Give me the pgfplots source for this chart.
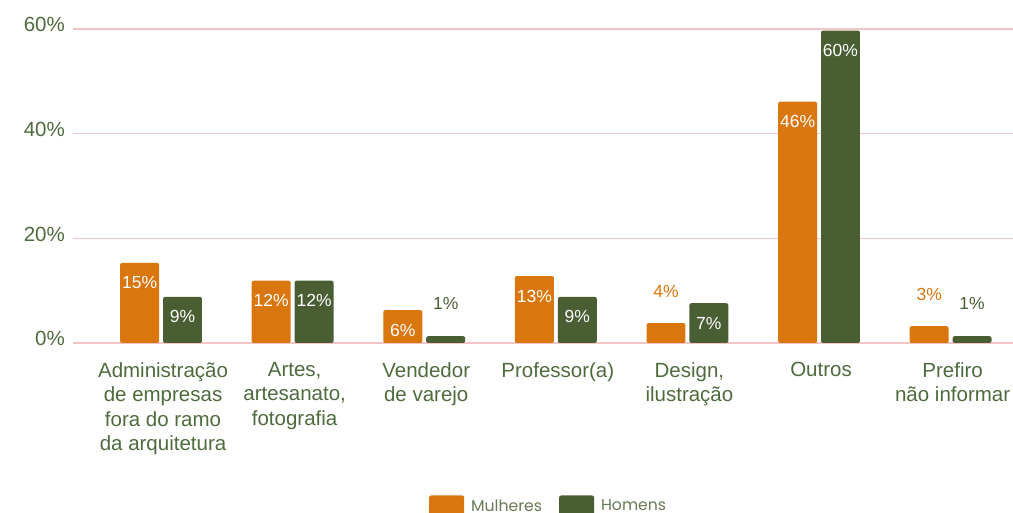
\documentclass[border=0pt]{standalone}
\usepackage{pgfplots}
\pgfplotsset{compat=1.18}
\usepackage{fontspec}
\setmainfont{Liberation Sans}
\newfontfamily\legendfont{Poppins}
\definecolor{cOr}{HTML}{D9770E}
\definecolor{cGr}{HTML}{495E33}
\definecolor{cTxt}{HTML}{4E6B3D}
\definecolor{cGrid}{HTML}{F2C6C6}
\definecolor{cLeg}{HTML}{667A55}
\pgfplotsset{
  mylegimg/.style={legend image code/.code={\fill[##1] (0pt,-9.5pt) rectangle (35pt,10.5pt); \path (40pt,0pt);}},
  lab/.style={draw=none, mark=none, forget plot,
    point meta=explicit symbolic, nodes near coords,
    every node near coord/.append style={font=\fontsize{17.5}{20}\selectfont, anchor=center, inner sep=0pt}},
}
\begin{document}
\begin{tikzpicture}
\path[use as bounding box] (0pt,0pt) rectangle (1013pt,513pt);
\begin{axis}[
  at={(73pt,170pt)}, anchor=south west, scale only axis, width=940pt, height=314pt,
  xmin=-0.669, xmax=6.474, ymin=0, ymax=60,
  axis line style={draw=none}, major tick length=0pt,
  ytick={0,20,40,60}, yticklabels={0\%,20\%,40\%,60\%},
  ymajorgrids, grid style={cGrid, line width=1.4pt},
  yticklabel style={font=\fontsize{20.5}{24}\selectfont, text=cTxt, anchor=base east, inner sep=0pt, xshift=-8pt, yshift=-2.7pt},
  xtick={0,1,2,3,4,5,6},
  xticklabels={{Administração\\de empresas\\fora do ramo\\da arquitetura},{Artes,\\artesanato,\\fotografia},{Vendedor\\de varejo},{Professor(a)},{Design,\\ilustração},{Outros},{Prefiro\\não informar}},
  xticklabel style={font=\fontsize{20.5}{24.5}\selectfont, text=cTxt, align=center, anchor=north, inner sep=0pt, yshift=-19pt, xshift=2pt},
  legend style={at={(rel axis cs:0.506,-0.5175)}, anchor=center, draw=none, fill=none, inner sep=0pt,
    font=\legendfont\fontsize{15.7}{18}\selectfont, text=cLeg,
    /tikz/every even column/.append style={column sep=15pt}},
  legend columns=2, legend cell align=left,
]
\addplot[ybar, bar width=0.296, bar shift=-0.163, fill=cOr, draw=none, rounded corners=2pt, mylegimg]
  coordinates {(0,15.3) (1,11.9) (2,6.3) (3,12.8) (4,3.8) (5,46.1) (6,3.2)};
\addlegendentry{Mulheres}
\addplot[ybar, bar width=0.296, bar shift=0.163, fill=cGr, draw=none, rounded corners=2pt, mylegimg]
  coordinates {(0,8.8) (1,11.9) (2,1.3) (3,8.8) (4,7.6) (5,59.7) (6,1.3)};
\addlegendentry{Homens}
% labels inside bars
\addplot[lab, every node near coord/.append style={text=white, yshift=-20pt}]
  coordinates {(-0.163,15.3)[15\%] (0.837,11.9)[12\%] (1.837,6.3)[6\%] (2.837,12.8)[13\%] (4.837,46.1)[46\%]};
\addplot[lab, every node near coord/.append style={text=white, yshift=-20pt}]
  coordinates {(0.163,8.8)[9\%] (1.163,11.9)[12\%] (3.163,8.8)[9\%] (4.163,7.6)[7\%] (5.163,59.7)[60\%]};
% labels above small bars
\addplot[lab, every node near coord/.append style={text=cOr, yshift=32pt}]
  coordinates {(3.837,3.8)[4\%] (5.837,3.2)[3\%]};
\addplot[lab, every node near coord/.append style={text=cGr, yshift=33pt}]
  coordinates {(2.163,1.3)[1\%] (6.163,1.3)[1\%]};
\end{axis}
\end{tikzpicture}
\end{document}
